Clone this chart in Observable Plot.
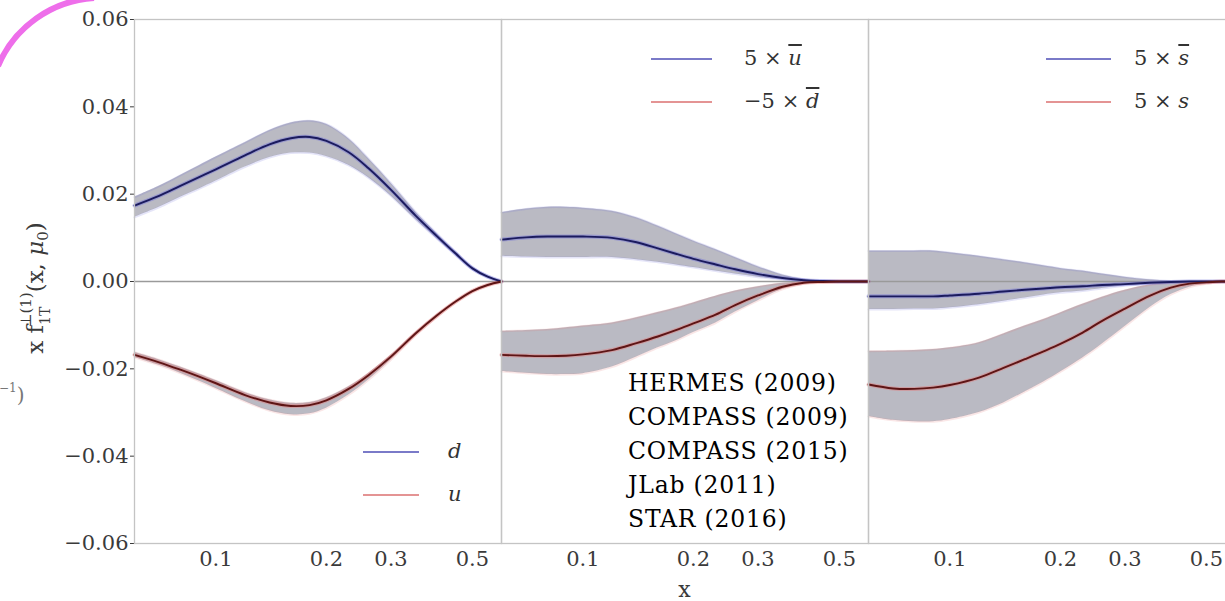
<!DOCTYPE html>
<html>
<head>
<meta charset="utf-8">
<script src="https://cdn.jsdelivr.net/npm/d3@7"></script>
<script src="https://cdn.jsdelivr.net/npm/@observablehq/plot@0.6"></script>
<style>
  html, body { margin: 0; padding: 0; background: #fff; overflow: hidden; }
  #wrap { position: relative; width: 1236px; height: 601px; }
  #wrap svg { display: block; }
  .legend { position: absolute; top: 0; font-family: "DejaVu Serif", serif; font-size: 21px; color: #333; }
  .legend .swatch { position: absolute; height: 0; border-top: 2px solid; }
  .legend .lab { position: absolute; white-space: nowrap; line-height: 26px; }
  .ov { text-decoration: overline; }
  .expts { position: absolute; left: 628px; top: 366px; font-family: "DejaVu Serif", serif;
           font-size: 23.5px; letter-spacing: 0.8px; line-height: 34px; color: #000; white-space: nowrap; }
  .deco { position: absolute; left: 0; top: 0; pointer-events: none; }
</style>
</head>
<body>
<div id="wrap"></div>
<script>
// x grid shared by every curve (log scale from 0.06 to 0.6)
const xs = [0.06, 0.07, 0.08, 0.09, 0.1, 0.12, 0.14, 0.16, 0.18, 0.2, 0.23, 0.26, 0.3, 0.35, 0.4, 0.45, 0.5, 0.55, 0.6];

// Panel 1: d and u quarks
const dMid = [0.0174, 0.0196, 0.0219, 0.0239, 0.0257, 0.0289, 0.0314, 0.0328, 0.0331, 0.0322, 0.0296, 0.0260, 0.0210, 0.0151, 0.0104, 0.0064, 0.0030, 0.0011, 0.0000];
const dHi  = [0.0193, 0.0218, 0.0243, 0.0265, 0.0285, 0.0318, 0.0346, 0.0363, 0.0368, 0.0360, 0.0327, 0.0282, 0.0225, 0.0160, 0.0110, 0.0068, 0.0033, 0.0012, 0.0000];
const dLo  = [0.0147, 0.0170, 0.0193, 0.0212, 0.0230, 0.0262, 0.0284, 0.0294, 0.0294, 0.0286, 0.0266, 0.0238, 0.0196, 0.0142, 0.0098, 0.0060, 0.0027, 0.0010, 0.0000];
const uMid = [-0.0168, -0.0185, -0.0202, -0.0218, -0.0233, -0.0260, -0.0277, -0.0285, -0.0283, -0.0272, -0.0246, -0.0215, -0.0172, -0.0119, -0.0078, -0.0046, -0.0022, -0.0008, 0.0000];
const uHi  = [-0.0162, -0.0179, -0.0196, -0.0212, -0.0227, -0.0254, -0.0271, -0.0279, -0.0277, -0.0266, -0.0241, -0.0211, -0.0169, -0.0117, -0.0076, -0.0045, -0.0021, -0.0008, 0.0000];
const uLo  = [-0.0174, -0.0192, -0.0210, -0.0228, -0.0245, -0.0275, -0.0296, -0.0305, -0.0303, -0.0290, -0.0260, -0.0226, -0.0179, -0.0123, -0.0081, -0.0048, -0.0023, -0.0009, 0.0000];

// Panel 2: 5 × ubar and −5 × dbar
const ubMid = [0.0096, 0.0101, 0.0103, 0.0103, 0.0103, 0.0100, 0.0090, 0.0076, 0.0063, 0.0052, 0.0039, 0.0028, 0.0017, 0.0008, 0.0003, 0.0001, 0, 0, 0];
const ubHi  = [0.0158, 0.0166, 0.0170, 0.0170, 0.0168, 0.0161, 0.0146, 0.0127, 0.0109, 0.0093, 0.0073, 0.0055, 0.0034, 0.0015, 0.0005, 0.0001, 0, 0, 0];
const ubLo  = [0.0058, 0.0056, 0.0055, 0.0055, 0.0055, 0.0055, 0.0050, 0.0044, 0.0038, 0.0032, 0.0024, 0.0017, 0.0010, 0.0004, 0.0001, 0, 0, 0, 0];
const dbMid = [-0.0168, -0.0170, -0.0171, -0.0170, -0.0167, -0.0157, -0.0141, -0.0126, -0.0111, -0.0096, -0.0076, -0.0054, -0.0032, -0.0012, -0.0003, -0.0001, 0, 0, 0];
const dbHi  = [-0.0114, -0.0112, -0.0110, -0.0106, -0.0102, -0.0095, -0.0083, -0.0071, -0.0060, -0.0049, -0.0034, -0.0022, -0.0012, -0.0004, -0.0001, 0, 0, 0, 0];
const dbLo  = [-0.0206, -0.0210, -0.0213, -0.0213, -0.0211, -0.0196, -0.0173, -0.0152, -0.0135, -0.0117, -0.0095, -0.0070, -0.0044, -0.0018, -0.0005, -0.0001, 0, 0, 0];

// Panel 3: 5 × sbar and 5 × s
const sbMid = [-0.0034, -0.0034, -0.0034, -0.0034, -0.0032, -0.0028, -0.0023, -0.0019, -0.0016, -0.0013, -0.0011, -0.0008, -0.0006, -0.0003, -0.0001, 0, 0, 0, 0];
const sbHi  = [0.0070, 0.0070, 0.0070, 0.0070, 0.0066, 0.0058, 0.0050, 0.0043, 0.0036, 0.0030, 0.0024, 0.0017, 0.0010, 0.0004, 0.0001, 0, 0, 0, 0];
const sbLo  = [-0.0064, -0.0064, -0.0063, -0.0063, -0.0060, -0.0053, -0.0045, -0.0038, -0.0031, -0.0026, -0.0022, -0.0016, -0.0010, -0.0005, -0.0001, 0, 0, 0, 0];
const sMid  = [-0.0236, -0.0245, -0.0246, -0.0243, -0.0237, -0.0220, -0.0198, -0.0178, -0.0160, -0.0143, -0.0117, -0.0090, -0.0062, -0.0033, -0.0014, -0.0005, -0.0002, 0, 0];
const sHi   = [-0.0160, -0.0159, -0.0158, -0.0156, -0.0152, -0.0140, -0.0120, -0.0102, -0.0087, -0.0072, -0.0052, -0.0036, -0.0020, -0.0008, -0.0003, -0.0001, 0, 0, 0];
const sLo   = [-0.0309, -0.0318, -0.0321, -0.0321, -0.0316, -0.0300, -0.0278, -0.0253, -0.0230, -0.0207, -0.0175, -0.0143, -0.0103, -0.0060, -0.0030, -0.0013, -0.0005, -0.0001, 0];

const panels = ["quarks", "sea", "strange"];
const xTicks = [0.1, 0.2, 0.3, 0.5];
const yTicks = [-0.06, -0.04, -0.02, 0, 0.02, 0.04, 0.06];
const experiments = ["HERMES (2009)", "COMPASS (2009)", "COMPASS (2015)", "JLab (2011)", "STAR (2016)"];

// series table: panel, tone, central value and band
const seriesList = [
  {panel: "quarks",  id: "d",    tone: "blue", mid: dMid,  lo: dLo,  hi: dHi},
  {panel: "quarks",  id: "u",    tone: "red",  mid: uMid,  lo: uLo,  hi: uHi},
  {panel: "sea",     id: "ubar", tone: "blue", mid: ubMid, lo: ubLo, hi: ubHi},
  {panel: "sea",     id: "dbar", tone: "red",  mid: dbMid, lo: dbLo, hi: dbHi},
  {panel: "strange", id: "sbar", tone: "blue", mid: sbMid, lo: sbLo, hi: sbHi},
  {panel: "strange", id: "s",    tone: "red",  mid: sMid,  lo: sLo,  hi: sHi}
];
const rows = seriesList.flatMap(s => xs.map((x, i) => ({
  panel: s.panel, id: s.id, tone: s.tone, x, y: s.mid[i], lo: s.lo[i], hi: s.hi[i]
})));

const dark = {blue: "#1b1b5e", red: "#5e1515"};
const halo = {blue: "#6f6fd6", red: "#e27a7a"};
const light = {blue: "#7a7ac8", red: "#e49494"};
const curve = "catmull-rom";

const fmtY = d => (d < 0 ? "\u2212" : "") + Math.abs(d).toFixed(2);

const plot = Plot.plot({
  width: 1236,
  height: 601,
  marginLeft: 133,
  marginRight: 0,
  marginTop: 19,
  marginBottom: 58,
  style: {fontFamily: "DejaVu Serif, serif", fontSize: "21px", color: "#3a3a3a", background: "transparent"},
  fx: {domain: panels, padding: 0, axis: null},
  x: {type: "log", domain: [0.06, 0.6], ticks: xTicks, tickFormat: d => String(d), tickSize: 0, tickPadding: 8, label: null},
  y: {domain: [-0.06, 0.06], ticks: yTicks, tickFormat: fmtY, tickSize: 4, tickPadding: 2, label: null},
  marks: [
    Plot.areaY(rows, {fx: "panel", x: "x", y1: "lo", y2: "hi", z: "id", fill: "#a9a9b4", fillOpacity: 0.8, curve}),
    Plot.line(rows, {fx: "panel", x: "x", y: "lo", z: "id", stroke: d => halo[d.tone], strokeOpacity: 0.18, strokeWidth: 2, curve}),
    Plot.line(rows, {fx: "panel", x: "x", y: "hi", z: "id", stroke: d => halo[d.tone], strokeOpacity: 0.18, strokeWidth: 2, curve}),
    Plot.ruleY([0], {stroke: "#9a9a9a", strokeWidth: 1.6}),
    Plot.line(rows, {fx: "panel", x: "x", y: "y", z: "id", stroke: d => halo[d.tone], strokeOpacity: 0.45, strokeWidth: 4, curve}),
    Plot.line(rows, {fx: "panel", x: "x", y: "y", z: "id", stroke: d => dark[d.tone], strokeWidth: 1.9, curve}),
    Plot.frame({stroke: "#c4c4c4", strokeWidth: 1.3})
  ]
});

const wrap = document.getElementById("wrap");
wrap.appendChild(plot);

const fx = plot.scale("fx");
const svg = d3.select(plot);

// x axis title under the middle panel
svg.append("text")
  .attr("x", fx.apply(panels[1]) + fx.bandwidth / 2)
  .attr("y", 597)
  .attr("text-anchor", "middle")
  .attr("fill", "#3a3a3a")
  .style("font-size", "22px")
  .text("x");

// y axis title: x f_{1T}^{⊥(1)}(x, μ0)
const yl = svg.append("text")
  .attr("transform", "translate(43,288) rotate(-90)")
  .attr("text-anchor", "middle")
  .attr("fill", "#3a3a3a")
  .style("font-size", "23px");
yl.append("tspan").text("x f");
yl.append("tspan").attr("dy", 7).style("font-size", "14px").text("1T");
yl.append("tspan").attr("dx", -21).attr("dy", -19).style("font-size", "15px").text("\u22A5(1)");
yl.append("tspan").attr("dy", 12).text("(x, ");
yl.append("tspan").style("font-style", "italic").text("\u03BC");
yl.append("tspan").attr("dy", 5).style("font-size", "15px").text("0");
yl.append("tspan").attr("dy", -5).text(")");

// per-panel legends
const legends = [
  {panel: "quarks",  top: 452, line: [229, 285], text: 314, items: [
    {tone: "blue", html: '<i>d</i>'},
    {tone: "red",  html: '<i>u</i>'}]},
  {panel: "sea",     top: 59, line: [150, 211], text: 243, items: [
    {tone: "blue", html: '5 \u00D7 <i class="ov">u</i>'},
    {tone: "red",  html: '\u22125 \u00D7 <i class="ov">d</i>'}]},
  {panel: "strange", top: 59, line: [178, 243], text: 266, items: [
    {tone: "blue", html: '5 \u00D7 <i class="ov">s</i>'},
    {tone: "red",  html: '5 \u00D7 <i>s</i>'}]}
];
const rowGap = 43;
for (const lg of legends) {
  const box = document.createElement("div");
  box.className = "legend";
  box.style.left = fx.apply(lg.panel) + "px";
  lg.items.forEach((it, i) => {
    const cy = lg.top + i * rowGap;
    const sw = document.createElement("div");
    sw.className = "swatch";
    sw.style.left = lg.line[0] + "px";
    sw.style.width = (lg.line[1] - lg.line[0]) + "px";
    sw.style.top = (cy - 1) + "px";
    sw.style.borderColor = light[it.tone];
    box.appendChild(sw);
    const lab = document.createElement("div");
    lab.className = "lab";
    lab.style.left = lg.text + "px";
    lab.style.top = (cy - 14) + "px";
    lab.innerHTML = it.html;
    box.appendChild(lab);
  });
  wrap.appendChild(box);
}

// list of experiments
const ex = document.createElement("div");
ex.className = "expts";
ex.innerHTML = experiments.join("<br>");
wrap.appendChild(ex);

// slide decoration at the top-left corner and a clipped neighbouring label
const deco = d3.select(wrap).append("svg")
  .attr("class", "deco").attr("width", 140).attr("height", 601);
deco.append("path")
  .attr("d", "M-2,66 A112,112 0 0 1 94,-2")
  .attr("fill", "none").attr("stroke", "#ee6eea").attr("stroke-width", 6);
const frag = deco.append("text")
  .attr("x", -1).attr("y", 402)
  .attr("fill", "#777").style("font-family", "DejaVu Serif");
frag.append("tspan").attr("dy", -10).style("font-size", "12px").text("\u22121");
frag.append("tspan").attr("dy", 10).style("font-size", "20px").text(")");
</script>
</body>
</html>
